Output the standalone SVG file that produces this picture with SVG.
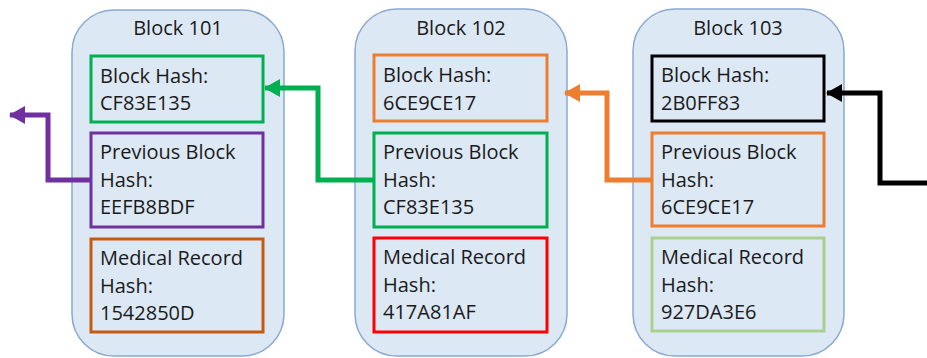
<svg xmlns="http://www.w3.org/2000/svg" width="927" height="358" viewBox="0 0 927 358">
<defs>
<style>
.blk{fill:#dde8f5;stroke:#8aa9d0;stroke-width:1.5}
.box{fill:none;stroke-width:3}
text{font-family:"Open Sans","Liberation Sans",sans-serif;font-size:20px;fill:#1a1a1a}
.title{text-anchor:middle}
.conn{fill:none;stroke-width:5;stroke-linejoin:miter}
</style>
<marker id="ahPurple" markerUnits="userSpaceOnUse" markerWidth="16" markerHeight="20" refX="15" refY="10" orient="auto" viewBox="0 0 16 20"><path d="M16,10 L0,1 L0,19 Z" fill="#7030a0"/></marker>
<marker id="ahGreen" markerUnits="userSpaceOnUse" markerWidth="16" markerHeight="20" refX="15" refY="10" orient="auto" viewBox="0 0 16 20"><path d="M16,10 L0,1 L0,19 Z" fill="#00b050"/></marker>
<marker id="ahOrange" markerUnits="userSpaceOnUse" markerWidth="16" markerHeight="20" refX="15" refY="10" orient="auto" viewBox="0 0 16 20"><path d="M16,10 L0,1 L0,19 Z" fill="#ed7d31"/></marker>
<marker id="ahBlack" markerUnits="userSpaceOnUse" markerWidth="16" markerHeight="20" refX="15" refY="10" orient="auto" viewBox="0 0 16 20"><path d="M16,10 L0,1 L0,19 Z" fill="#000000"/></marker>
</defs>

<g id="block101">
<rect class="blk" x="72" y="10" width="212" height="346" rx="42"/>
<text class="title" x="178" y="35">Block 101</text>
<rect class="box" x="91" y="56" width="172" height="66" stroke="#00b050"/>
<text x="100" y="83">Block Hash:</text>
<text x="100" y="110">CF83E135</text>
<rect class="box" x="91" y="133" width="172" height="94" stroke="#7030a0"/>
<text x="100" y="159">Previous Block</text>
<text x="100" y="187">Hash:</text>
<text x="100" y="214">EEFB8BDF</text>
<rect class="box" x="91" y="239" width="172" height="93" stroke="#c55a11"/>
<text x="100" y="265">Medical Record</text>
<text x="100" y="293">Hash:</text>
<text x="100" y="320">1542850D</text>
</g>

<g id="block102">
<rect class="blk" x="355" y="9" width="212" height="347" rx="42"/>
<text class="title" x="461" y="35">Block 102</text>
<rect class="box" x="374" y="55" width="173" height="66" stroke="#ed7d31"/>
<text x="383" y="82">Block Hash:</text>
<text x="383" y="110">6CE9CE17</text>
<rect class="box" x="374" y="133" width="173" height="94" stroke="#00b050"/>
<text x="383" y="159">Previous Block</text>
<text x="383" y="187">Hash:</text>
<text x="383" y="214">CF83E135</text>
<rect class="box" x="374" y="238" width="173" height="94" stroke="#ff0000"/>
<text x="383" y="264">Medical Record</text>
<text x="383" y="292">Hash:</text>
<text x="383" y="319">417A81AF</text>
</g>

<g id="block103">
<rect class="blk" x="633" y="9" width="211" height="347" rx="42"/>
<text class="title" x="738" y="35">Block 103</text>
<rect class="box" x="652" y="56" width="172" height="65" stroke="#000000"/>
<text x="661" y="82">Block Hash:</text>
<text x="661" y="110">2B0FF83</text>
<rect class="box" x="652" y="133" width="172" height="93" stroke="#ed7d31"/>
<text x="661" y="159">Previous Block</text>
<text x="661" y="187">Hash:</text>
<text x="661" y="214">6CE9CE17</text>
<rect class="box" x="652" y="238" width="172" height="93" stroke="#a9d18e"/>
<text x="661" y="264">Medical Record</text>
<text x="661" y="292">Hash:</text>
<text x="661" y="319">927DA3E6</text>
</g>

<g id="connectors">
<path class="conn" stroke="#7030a0" d="M90,180 H48 V115 H10" marker-end="url(#ahPurple)"/>
<path class="conn" stroke="#00b050" d="M373,180 H318 V88 H265" marker-end="url(#ahGreen)"/>
<path class="conn" stroke="#ed7d31" d="M651,180 H607 V93 H565" marker-end="url(#ahOrange)"/>
<path class="conn" stroke="#000000" d="M927,183 H880 V93 H827" marker-end="url(#ahBlack)"/>
</g>
</svg>
